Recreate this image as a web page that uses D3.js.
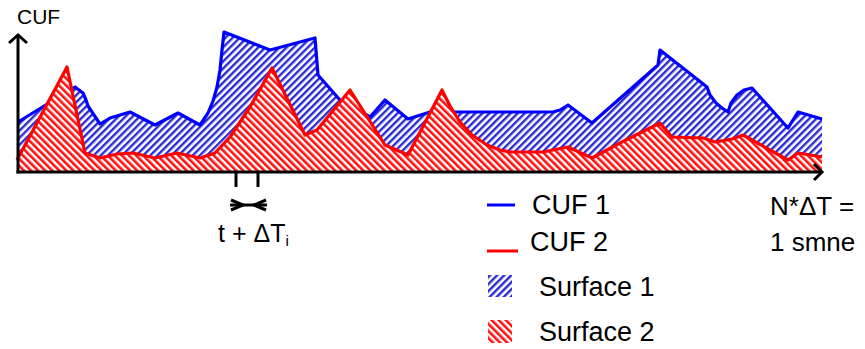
<!DOCTYPE html>
<html>
<head>
<meta charset="utf-8">
<script src="https://cdn.jsdelivr.net/npm/d3@7"></script>
<style>
  html, body { margin: 0; padding: 0; background: #fff; }
  svg { display: block; }
  text { font-family: "Liberation Sans", Arial, sans-serif; fill: #000; }
</style>
</head>
<body>
<svg id="chart" width="865" height="349"></svg>
<script>
// ---- data (time units along x, CUF units along y) ----
const cuf1X = [0, 57, 65, 68, 70, 82, 92, 112, 137, 160, 182, 190, 195, 199, 202, 204, 206, 252, 297, 300, 322, 352, 367, 390, 412, 535, 542, 550, 574, 640, 642, 689, 692, 698, 704, 710, 713, 719, 726, 734, 770, 780, 804];
const cuf1Y = [50, 85, 79, 72, 66, 48, 54, 60, 47, 59, 47, 59, 71, 85, 102, 122, 140, 122, 134, 97, 72, 55, 72, 53, 60, 60, 62, 67, 49, 107, 122, 85, 77, 69, 64, 60, 69, 77, 82, 84, 44, 60, 53];

const cuf2X = [-1, 49, 67, 82, 99, 115, 137, 159, 182, 197, 212, 232, 254, 287, 299, 332, 367, 390, 424, 432, 442, 454, 469, 482, 492, 525, 550, 574, 602, 642, 654, 685, 697, 714, 725, 770, 780, 804];
const cuf2Y = [12, 105, 19, 14, 18, 19, 14, 19, 14, 19, 35, 65, 104, 37, 42, 82, 27, 17, 82, 66, 50, 37, 27, 22, 20, 20, 25, 14, 29, 49, 35, 34, 30, 33, 37, 12, 19, 15];

const stepTicks = [218, 240];          // t and t + ΔT_i
const yAxisTop = 137;                  // CUF axis arrow tip
const xAxisEnd = 804;                  // N*ΔT

const legendItems = ["CUF 1", "CUF 2", "Surface 1", "Surface 2"];
const labelY = "CUF";
const labelStep = "t + ΔT";
const labelStepSub = "i";
const labelEnd = ["N*ΔT =", "1 smne"];

// ---- scales ----
const x = d3.scaleLinear().domain([0, 804]).range([18, 822]);
const y = d3.scaleLinear().domain([0, 140]).range([172, 32]);

const svg = d3.select("#chart");
const defs = svg.append("defs");

function hatch(id, color, angle, bw) {
  const p = defs.append("pattern")
    .attr("id", id)
    .attr("patternUnits", "userSpaceOnUse")
    .attr("width", 5).attr("height", 5)
    .attr("patternTransform", `rotate(${angle})`);
  p.append("rect").attr("width", 5).attr("height", 5).attr("fill", "#fff");
  p.append("rect").attr("x", 0).attr("y", 0).attr("width", bw).attr("height", 5).attr("fill", color);
}
hatch("hatchBlue", "#2a2ad2", 45, 2.4);
hatch("hatchRed", "#ff1010", -45, 2.6);

const d1 = cuf1X.map((v, i) => [v, cuf1Y[i]]);
const d2 = cuf2X.map((v, i) => [v, cuf2Y[i]]);

const area = d3.area().x(d => x(d[0])).y0(y(0)).y1(d => y(d[1]));
const line = d3.line().x(d => x(d[0])).y(d => y(d[1]));

svg.append("path").datum(d1).attr("d", area).attr("fill", "url(#hatchBlue)");
svg.append("path").datum(d1).attr("d", line)
  .attr("fill", "none").attr("stroke", "#0000ff").attr("stroke-width", 3.2)
  .attr("stroke-linejoin", "round");

svg.append("path").datum(d2).attr("d", area).attr("fill", "url(#hatchRed)");
svg.append("path").datum(d2).attr("d", line)
  .attr("fill", "none").attr("stroke", "#ff0000").attr("stroke-width", 3.2)
  .attr("stroke-linejoin", "round");

// ---- axes ----
const ax = svg.append("g").attr("stroke", "#000").attr("stroke-width", 3).attr("fill", "none")
  .attr("stroke-linecap", "butt");
ax.append("line").attr("x1", x(0)).attr("x2", x(0)).attr("y1", y(0) + 1.5).attr("y2", y(yAxisTop));
ax.append("path").attr("d", `M${x(0) - 9},${y(yAxisTop) + 8} L${x(0)},${y(yAxisTop)} L${x(0) + 9},${y(yAxisTop) + 8}`)
  .attr("stroke-linejoin", "miter");
ax.append("line").attr("x1", x(-1.5)).attr("x2", x(xAxisEnd)).attr("y1", y(0)).attr("y2", y(0));
ax.append("path").attr("d", `M${x(xAxisEnd) - 8},${y(0) - 8} L${x(xAxisEnd)},${y(0)} L${x(xAxisEnd) - 8},${y(0) + 8}`)
  .attr("stroke-linejoin", "miter");

// step ticks
stepTicks.forEach(t => {
  ax.append("line").attr("x1", x(t)).attr("x2", x(t)).attr("y1", y(0)).attr("y2", y(0) + 15);
});
const ya = 205;
const xl = x(stepTicks[0]), xr = x(stepTicks[1]);
ax.append("line").attr("x1", xl - 6).attr("x2", xr + 9).attr("y1", ya).attr("y2", ya);
ax.append("path").attr("d", `M${xl - 5},${ya - 5} L${xl + 7},${ya} L${xl - 5},${ya + 5}`);
ax.append("path").attr("d", `M${xr + 8},${ya - 5} L${xr - 4},${ya} L${xr + 8},${ya + 5}`);

// ---- labels ----
svg.append("text").attr("x", x(0) - 1).attr("y", 24).attr("font-size", 21).text(labelY);

const st = svg.append("text").attr("x", 218).attr("y", 242).attr("font-size", 25);
st.append("tspan").text(labelStep);
st.append("tspan").attr("font-size", 15).attr("dy", 4).text(labelStepSub);

svg.append("text").attr("x", 770).attr("y", 215).attr("font-size", 26).text(labelEnd[0]);
svg.append("text").attr("x", 770).attr("y", 251).attr("font-size", 26).text(labelEnd[1]);

// ---- legend ----
const lg = svg.append("g");
lg.append("line").attr("x1", 487).attr("x2", 515).attr("y1", 205).attr("y2", 205)
  .attr("stroke", "#0000ff").attr("stroke-width", 3);
lg.append("text").attr("x", 532).attr("y", 214).attr("font-size", 27).text(legendItems[0]);
lg.append("line").attr("x1", 487).attr("x2", 518).attr("y1", 251).attr("y2", 251)
  .attr("stroke", "#ff0000").attr("stroke-width", 3);
lg.append("text").attr("x", 530).attr("y", 251).attr("font-size", 27).text(legendItems[1]);
lg.append("rect").attr("x", 488).attr("y", 275).attr("width", 24).attr("height", 22).attr("fill", "url(#hatchBlue)");
lg.append("text").attr("x", 539).attr("y", 296).attr("font-size", 27).text(legendItems[2]);
lg.append("rect").attr("x", 488).attr("y", 320).attr("width", 24).attr("height", 23).attr("fill", "url(#hatchRed)");
lg.append("text").attr("x", 539).attr("y", 341).attr("font-size", 27).text(legendItems[3]);
</script>
</body>
</html>
